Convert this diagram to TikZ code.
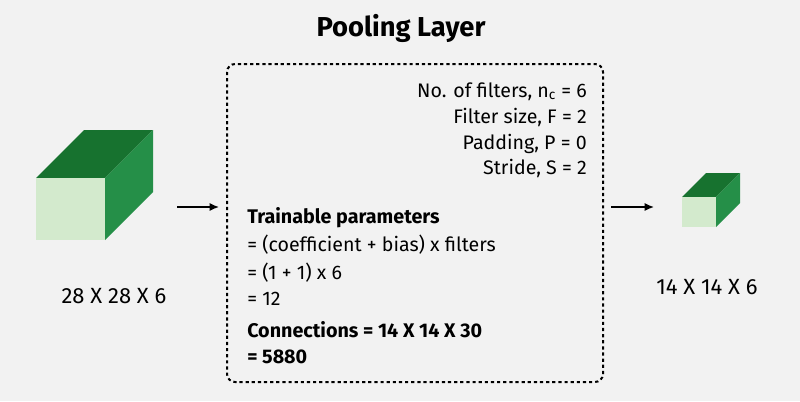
\documentclass[tikz,border=0pt]{standalone}
\usepackage{fontspec}
\setmainfont{Fira Sans}
\usetikzlibrary{arrows.meta}
\definecolor{bg}{HTML}{F2F2F2}
\definecolor{gfront}{HTML}{D3EACD}
\definecolor{gtop}{HTML}{17722F}
\definecolor{gside}{HTML}{258F48}
\begin{document}
\begin{tikzpicture}[x=0.75pt,y=-0.75pt,
  bodytxt/.style={inner sep=0pt,font=\fontsize{14.7pt}{17pt}\selectfont},
  boldtxt/.style={bodytxt,font=\fontsize{14.8pt}{17pt}\selectfont\bfseries},
  labtxt/.style={inner sep=0pt,font=\fontsize{16.5pt}{19pt}\selectfont},
  arr/.style={-{Latex[length=7pt,width=6pt]},line width=1.1pt},
  dashbox/.style={draw,line width=1.5pt,dash pattern=on 2.4pt off 2.2pt,rounded corners=6pt}]
\fill[bg] (0,0) rectangle (800,401);
\useasboundingbox (0,0) rectangle (800,401);
% title
\node[inner sep=0pt,anchor=base,font=\fontsize{20.5pt}{23pt}\selectfont\bfseries] (title) at (401,36) {Pooling Layer};
% dashed box
\draw[dashbox] (227,64) rectangle (603,382);
% left cube
\fill[gtop] (36,178) -- (84,130) -- (153,130) -- (105,178) -- cycle;
\fill[gside] (105,178) -- (153,130) -- (153,192) -- (105,240) -- cycle;
\fill[gfront] (36,178) rectangle (105,240);
\node[labtxt,anchor=base] (labA) at (114,303) {28 X 28 X 6};
% right cube
\fill[gtop] (682,197) -- (706,173) -- (740,173) -- (716,197) -- cycle;
\fill[gside] (716,197) -- (740,173) -- (740,203) -- (716,227) -- cycle;
\fill[gfront] (682,197) rectangle (716,227);
\node[labtxt,anchor=base] (labB) at (707,294) {14 X 14 X 6};
% arrows
\coordinate (a1s) at (177,207);
\coordinate (a1e) at (219,207);
\coordinate (a2s) at (611,207);
\coordinate (a2e) at (654,207);
\draw[arr] (a1s) -- (a1e);
\draw[arr] (a2s) -- (a2e);
% right aligned parameters
\node[bodytxt,anchor=base east] (p1) at (587,97) {No. of filters, n\textsubscript{c} = 6};
\node[bodytxt,anchor=base east] (p2) at (587,123) {Filter size, F = 2};
\node[bodytxt,anchor=base east] (p3) at (587,149) {Padding, P = 0};
\node[bodytxt,anchor=base east] (p4) at (587,174) {Stride, S = 2};
% left aligned
\node[boldtxt,anchor=base west] (t1) at (247,223) {Trainable parameters};
\node[bodytxt,anchor=base west] (t2) at (247,251) {= (coefficient + bias) x filters};
\node[bodytxt,anchor=base west] (t3) at (247,279) {= (1 + 1) x 6};
\node[bodytxt,anchor=base west] (t4) at (247,305) {= 12};
\node[boldtxt,anchor=base west] (t5) at (247,337) {Connections = 14 X 14 X 30};
\node[boldtxt,anchor=base west] (t6) at (247,363) {= 5880};
\end{tikzpicture}
\end{document}
